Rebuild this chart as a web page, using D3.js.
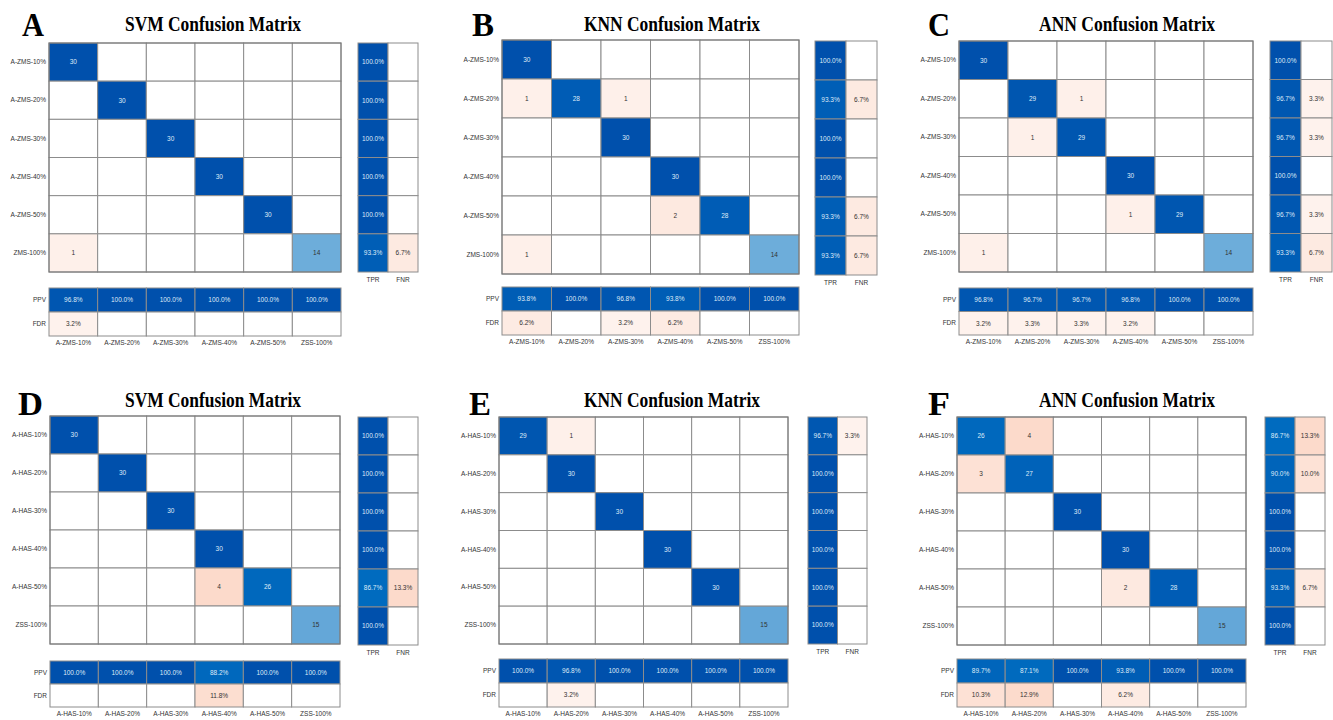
<!DOCTYPE html>
<html>
<head>
<meta charset="utf-8">
<script src="https://cdn.jsdelivr.net/npm/d3@7"></script>
<style>
  body { margin: 0; background: #fff; }
  svg { display: block; }
  .lbl text { font-family: "Liberation Sans", Arial, sans-serif; font-size: 6.5px; fill: #333; }
  .cell text { font-family: "Liberation Sans", Arial, sans-serif; font-size: 6.5px; }
</style>
</head>
<body>
<div id="chart"></div>
<script>
// class names
const zmsRows = ["A-ZMS-10%", "A-ZMS-20%", "A-ZMS-30%", "A-ZMS-40%", "A-ZMS-50%", "ZMS-100%"];
const zmsCols = ["A-ZMS-10%", "A-ZMS-20%", "A-ZMS-30%", "A-ZMS-40%", "A-ZMS-50%", "ZSS-100%"];
const hasRows = ["A-HAS-10%", "A-HAS-20%", "A-HAS-30%", "A-HAS-40%", "A-HAS-50%", "ZSS-100%"];

// confusion matrices (rows = true class, cols = predicted)
const svmZms = [[30,0,0,0,0,0],[0,30,0,0,0,0],[0,0,30,0,0,0],[0,0,0,30,0,0],[0,0,0,0,30,0],[1,0,0,0,0,14]];
const knnZms = [[30,0,0,0,0,0],[1,28,1,0,0,0],[0,0,30,0,0,0],[0,0,0,30,0,0],[0,0,0,2,28,0],[1,0,0,0,0,14]];
const annZms = [[30,0,0,0,0,0],[0,29,1,0,0,0],[0,1,29,0,0,0],[0,0,0,30,0,0],[0,0,0,1,29,0],[1,0,0,0,0,14]];
const svmHas = [[30,0,0,0,0,0],[0,30,0,0,0,0],[0,0,30,0,0,0],[0,0,0,30,0,0],[0,0,0,4,26,0],[0,0,0,0,0,15]];
const knnHas = [[29,1,0,0,0,0],[0,30,0,0,0,0],[0,0,30,0,0,0],[0,0,0,30,0,0],[0,0,0,0,30,0],[0,0,0,0,0,15]];
const annHas = [[26,4,0,0,0,0],[3,27,0,0,0,0],[0,0,30,0,0,0],[0,0,0,30,0,0],[0,0,0,2,28,0],[0,0,0,0,0,15]];

// row summaries (%)
const svmZmsTpr = [100,100,100,100,100,93.3], svmZmsFnr = [0,0,0,0,0,6.7];
const knnZmsTpr = [100,93.3,100,100,93.3,93.3], knnZmsFnr = [0,6.7,0,0,6.7,6.7];
const annZmsTpr = [100,96.7,96.7,100,96.7,93.3], annZmsFnr = [0,3.3,3.3,0,3.3,6.7];
const svmHasTpr = [100,100,100,100,86.7,100], svmHasFnr = [0,0,0,0,13.3,0];
const knnHasTpr = [96.7,100,100,100,100,100], knnHasFnr = [3.3,0,0,0,0,0];
const annHasTpr = [86.7,90.0,100,100,93.3,100], annHasFnr = [13.3,10.0,0,0,6.7,0];

// column summaries (%)
const svmZmsPpv = [96.8,100,100,100,100,100], svmZmsFdr = [3.2,0,0,0,0,0];
const knnZmsPpv = [93.8,100,96.8,93.8,100,100], knnZmsFdr = [6.2,0,3.2,6.2,0,0];
const annZmsPpv = [96.8,96.7,96.7,96.8,100,100], annZmsFdr = [3.2,3.3,3.3,3.2,0,0];
const svmHasPpv = [100,100,100,88.2,100,100], svmHasFdr = [0,0,0,11.8,0,0];
const knnHasPpv = [100,96.8,100,100,100,100], knnHasFdr = [0,3.2,0,0,0,0];
const annHasPpv = [89.7,87.1,100,93.8,100,100], annHasFdr = [10.3,12.9,0,6.2,0,0];

const width = 1333, height = 720;

// colours
const diagColor = d3.scaleLinear().domain([14, 26, 30]).range(["#6dadda", "#0068bd", "#0050ac"]).clamp(true);
const offColor = d3.scaleLinear().domain([1, 4]).range(["#fef0ea", "#fcdacb"]).clamp(true);
const goodColor = d3.scaleLinear().domain([86.7, 100]).range(["#006bbf", "#0050ac"]).clamp(true);
const badColor = d3.scaleLinear().domain([3.3, 13.3]).range(["#fef2ed", "#fcdacb"]).clamp(true);
const lightText = "#dfeaf7", darkText = "#333";
const gridStroke = "#8c8c8c";

const panels = [
  {letter: "A", title: "SVM Confusion Matrix", rows: zmsRows, cols: zmsCols, m: svmZms, tpr: svmZmsTpr, fnr: svmZmsFnr, ppv: svmZmsPpv, fdr: svmZmsFdr,
   lx: 22, ly: 36, tx: 213, ty: 31, mx: [49, 341], my: [43, 272], sx: [358, 418], sy: [43, 272], py: [288, 336]},
  {letter: "B", title: "KNN Confusion Matrix", rows: zmsRows, cols: zmsCols, m: knnZms, tpr: knnZmsTpr, fnr: knnZmsFnr, ppv: knnZmsPpv, fdr: knnZmsFdr,
   lx: 472, ly: 36, tx: 672, ty: 31, mx: [502, 799], my: [40, 274], sx: [815, 877], sy: [41, 275], py: [287, 335]},
  {letter: "C", title: "ANN Confusion Matrix", rows: zmsRows, cols: zmsCols, m: annZms, tpr: annZmsTpr, fnr: annZmsFnr, ppv: annZmsPpv, fdr: annZmsFdr,
   lx: 928, ly: 36, tx: 1127, ty: 31, mx: [959, 1253], my: [41, 272], sx: [1270, 1332], sy: [41, 272], py: [288, 335]},
  {letter: "D", title: "SVM Confusion Matrix", rows: hasRows, cols: hasRows, m: svmHas, tpr: svmHasTpr, fnr: svmHasFnr, ppv: svmHasPpv, fdr: svmHasFdr,
   lx: 18, ly: 415, tx: 213, ty: 407, mx: [50, 340], my: [416, 644], sx: [358, 418], sy: [417, 645], py: [661, 707]},
  {letter: "E", title: "KNN Confusion Matrix", rows: hasRows, cols: hasRows, m: knnHas, tpr: knnHasTpr, fnr: knnHasFnr, ppv: knnHasPpv, fdr: knnHasFdr,
   lx: 469, ly: 415, tx: 672, ty: 407, mx: [499, 788], my: [417, 644], sx: [808, 867], sy: [417, 644], py: [659, 707]},
  {letter: "F", title: "ANN Confusion Matrix", rows: hasRows, cols: hasRows, m: annHas, tpr: annHasTpr, fnr: annHasFnr, ppv: annHasPpv, fdr: annHasFdr,
   lx: 928, ly: 415, tx: 1127, ty: 407, mx: [957, 1246], my: [417, 645], sx: [1265, 1325], sy: [417, 645], py: [659, 707]}
];

const svg = d3.select("#chart").append("svg")
    .attr("width", width)
    .attr("height", height);

function fmt(v) { return v.toFixed(1) + "%"; }

function drawBlock(g, cells, x, y) {
    // cells: [{r, c, fill, text, textFill}]
    const cg = g.append("g").attr("class", "cell");
    cg.selectAll("rect")
        .data(cells)
        .enter().append("rect")
        .attr("x", d => x(d.c))
        .attr("y", d => y(d.r))
        .attr("width", x.bandwidth())
        .attr("height", y.bandwidth())
        .attr("fill", d => d.fill)
        .attr("stroke", gridStroke)
        .attr("stroke-width", 1);
    cg.selectAll("text")
        .data(cells.filter(d => d.text))
        .enter().append("text")
        .attr("x", d => x(d.c) + x.bandwidth() / 2)
        .attr("y", d => y(d.r) + y.bandwidth() / 2)
        .attr("dy", "0.35em")
        .attr("text-anchor", "middle")
        .attr("fill", d => d.textFill)
        .text(d => d.text);
}

function styleAxis(sel) {
    sel.attr("class", "lbl");
    sel.select(".domain").remove();
    sel.selectAll(".tick line").remove();
}

panels.forEach(function(p) {
    const g = svg.append("g");
    const idx = d3.range(p.rows.length);

    g.append("text")
        .attr("x", p.lx).attr("y", p.ly)
        .attr("font-family", "'Liberation Serif', 'Times New Roman', serif")
        .attr("font-weight", "bold")
        .attr("font-size", 34)
        .attr("textLength", p.letter == "D" ? 25 : 22)
        .attr("lengthAdjust", "spacingAndGlyphs")
        .text(p.letter);

    g.append("text")
        .attr("x", p.tx - 88).attr("y", p.ty)
        .attr("font-family", "'Liberation Serif', 'Times New Roman', serif")
        .attr("font-weight", "bold")
        .attr("font-size", 21)
        .attr("textLength", 176)
        .attr("lengthAdjust", "spacingAndGlyphs")
        .text(p.title);

    // main matrix
    const x = d3.scaleBand().domain(idx).range(p.mx);
    const y = d3.scaleBand().domain(idx).range(p.my);
    const cells = [];
    p.m.forEach(function(row, r) {
        row.forEach(function(v, c) {
            let fill = "#fff", tf = darkText;
            if (v > 0) {
                if (r == c) { fill = diagColor(v); tf = v >= 20 ? lightText : darkText; }
                else fill = offColor(v);
            }
            cells.push({r: r, c: c, fill: fill, text: v > 0 ? String(v) : "", textFill: tf});
        });
    });
    drawBlock(g, cells, x, y);
    g.append("rect")
        .attr("x", p.mx[0]).attr("y", p.my[0])
        .attr("width", p.mx[1] - p.mx[0]).attr("height", p.my[1] - p.my[0])
        .attr("fill", "none").attr("stroke", "#777");

    g.append("g")
        .attr("transform", `translate(${p.mx[0]},0)`)
        .call(d3.axisLeft(y).tickSize(0).tickPadding(3).tickFormat(i => p.rows[i]))
        .call(styleAxis);

    // TPR / FNR
    const sx = d3.scaleBand().domain(["TPR", "FNR"]).range(p.sx);
    const sy = d3.scaleBand().domain(idx).range(p.sy);
    const side = [];
    idx.forEach(function(r) {
        side.push({r: r, c: "TPR", fill: goodColor(p.tpr[r]), text: fmt(p.tpr[r]), textFill: lightText});
        const f = p.fnr[r];
        side.push({r: r, c: "FNR", fill: f > 0 ? badColor(f) : "#fff", text: f > 0 ? fmt(f) : "", textFill: darkText});
    });
    drawBlock(g, side, sx, sy);
    g.append("g")
        .attr("transform", `translate(0,${p.sy[1]})`)
        .call(d3.axisBottom(sx).tickSize(0).tickPadding(5))
        .call(styleAxis);

    // PPV / FDR
    const px = d3.scaleBand().domain(idx).range(p.mx);
    const py = d3.scaleBand().domain(["PPV", "FDR"]).range(p.py);
    const bottom = [];
    idx.forEach(function(c) {
        bottom.push({r: "PPV", c: c, fill: goodColor(p.ppv[c]), text: fmt(p.ppv[c]), textFill: lightText});
        const f = p.fdr[c];
        bottom.push({r: "FDR", c: c, fill: f > 0 ? badColor(f) : "#fff", text: f > 0 ? fmt(f) : "", textFill: darkText});
    });
    drawBlock(g, bottom, px, py);
    g.append("g")
        .attr("transform", `translate(${p.mx[0]},0)`)
        .call(d3.axisLeft(py).tickSize(0).tickPadding(3))
        .call(styleAxis);
    g.append("g")
        .attr("transform", `translate(0,${p.py[1]})`)
        .call(d3.axisBottom(px).tickSize(0).tickPadding(4).tickFormat(i => p.cols[i]))
        .call(styleAxis);
});
</script>
</body>
</html>
